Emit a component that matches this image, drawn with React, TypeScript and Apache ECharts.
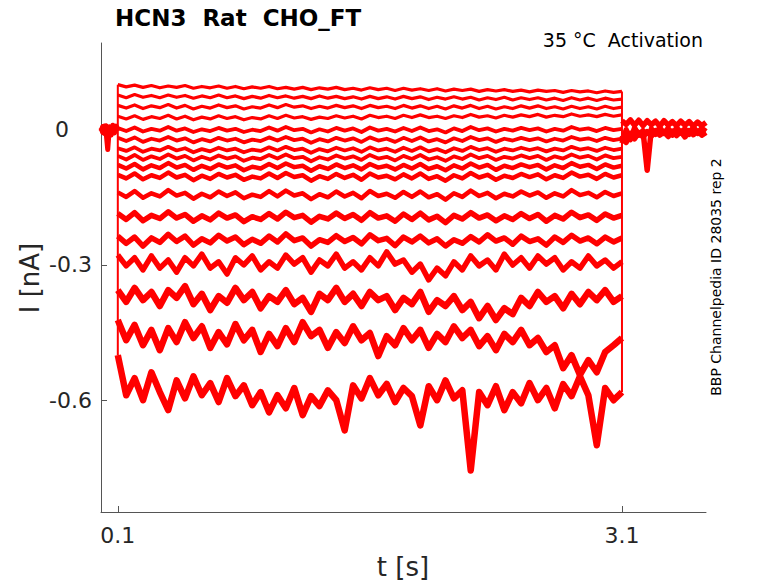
import { useRef, useEffect } from 'react';
import * as echarts from 'echarts';

// time grid of the voltage step (s)
const stepTimes = [
  0.10, 0.15, 0.20, 0.25, 0.30, 0.35, 0.40, 0.45, 0.50, 0.55,
  0.60, 0.65, 0.70, 0.75, 0.80, 0.85, 0.90, 0.95, 1.00, 1.05,
  1.10, 1.15, 1.20, 1.25, 1.30, 1.35, 1.40, 1.45, 1.50, 1.55,
  1.60, 1.65, 1.70, 1.75, 1.80, 1.85, 1.90, 1.95, 2.00, 2.05,
  2.10, 2.15, 2.20, 2.25, 2.30, 2.35, 2.40, 2.45, 2.50, 2.55,
  2.60, 2.65, 2.70, 2.75, 2.80, 2.85, 2.90, 2.95, 3.00, 3.05,
  3.10,
];

// currents during each step (nA), top trace first
const trace1 = [
  0.100, 0.095, 0.099, 0.094, 0.098, 0.093, 0.097, 0.094, 0.098, 0.092,
  0.096, 0.093, 0.097, 0.092, 0.096, 0.091, 0.095, 0.092, 0.096, 0.091,
  0.094, 0.090, 0.094, 0.089, 0.093, 0.090, 0.094, 0.089, 0.092, 0.088,
  0.093, 0.089, 0.092, 0.087, 0.092, 0.088, 0.091, 0.087, 0.091, 0.086,
  0.090, 0.087, 0.090, 0.085, 0.089, 0.086, 0.089, 0.085, 0.088, 0.084,
  0.088, 0.085, 0.087, 0.083, 0.087, 0.084, 0.086, 0.082, 0.086, 0.083,
  0.085,
];
const trace2 = [
  0.077, 0.071, 0.078, 0.072, 0.076, 0.071, 0.077, 0.072, 0.076, 0.070,
  0.075, 0.071, 0.077, 0.071, 0.075, 0.069, 0.074, 0.070, 0.076, 0.071,
  0.075, 0.070, 0.074, 0.069, 0.075, 0.070, 0.074, 0.069, 0.073, 0.068,
  0.074, 0.069, 0.073, 0.068, 0.074, 0.069, 0.073, 0.067, 0.072, 0.068,
  0.073, 0.068, 0.072, 0.066, 0.071, 0.067, 0.072, 0.066, 0.071, 0.067,
  0.071, 0.066, 0.070, 0.065, 0.071, 0.066, 0.070, 0.065, 0.070, 0.066,
  0.068,
];
const trace3 = [
  0.054, 0.048, 0.055, 0.047, 0.053, 0.049, 0.056, 0.048, 0.054, 0.046,
  0.052, 0.048, 0.055, 0.049, 0.053, 0.046, 0.051, 0.048, 0.055, 0.049,
  0.056, 0.050, 0.053, 0.047, 0.052, 0.048, 0.054, 0.049, 0.053, 0.047,
  0.054, 0.049, 0.052, 0.047, 0.054, 0.048, 0.053, 0.047, 0.052, 0.046,
  0.053, 0.048, 0.054, 0.047, 0.052, 0.046, 0.051, 0.047, 0.053, 0.048,
  0.053, 0.047, 0.051, 0.046, 0.052, 0.047, 0.051, 0.046, 0.052, 0.047,
  0.050,
];
const trace4 = [
  0.030, 0.024, 0.031, 0.023, 0.029, 0.025, 0.032, 0.024, 0.030, 0.022,
  0.028, 0.024, 0.031, 0.025, 0.029, 0.022, 0.027, 0.024, 0.031, 0.025,
  0.032, 0.026, 0.029, 0.023, 0.028, 0.025, 0.031, 0.026, 0.030, 0.024,
  0.032, 0.027, 0.030, 0.025, 0.032, 0.027, 0.033, 0.027, 0.030, 0.025,
  0.031, 0.027, 0.034, 0.028, 0.031, 0.026, 0.032, 0.028, 0.033, 0.029,
  0.034, 0.028, 0.032, 0.029, 0.035, 0.030, 0.033, 0.029, 0.034, 0.030,
  0.033,
];
const trace5 = [
  0.004, -0.003, 0.005, -0.004, 0.002, -0.002, 0.006, -0.002, 0.003, -0.005,
  0.001, -0.003, 0.004, -0.002, 0.002, -0.005, 0.000, -0.003, 0.005, -0.002,
  0.006, -0.001, 0.002, -0.006, 0.001, -0.004, 0.004, -0.002, 0.003, -0.005,
  0.005, -0.002, 0.002, -0.004, 0.004, -0.003, 0.005, -0.003, 0.001, -0.006,
  0.003, -0.003, 0.006, -0.001, 0.003, -0.004, 0.002, -0.002, 0.004, -0.001,
  0.003, -0.004, 0.002, -0.002, 0.006, 0.000, 0.003, -0.003, 0.004, -0.001,
  0.002,
];
const trace6 = [
  -0.018, -0.025, -0.017, -0.027, -0.020, -0.024, -0.016, -0.024, -0.019, -0.028,
  -0.021, -0.026, -0.018, -0.024, -0.020, -0.028, -0.022, -0.025, -0.017, -0.024,
  -0.016, -0.023, -0.020, -0.029, -0.021, -0.026, -0.018, -0.024, -0.019, -0.027,
  -0.017, -0.024, -0.020, -0.027, -0.018, -0.025, -0.017, -0.026, -0.021, -0.028,
  -0.019, -0.025, -0.016, -0.023, -0.019, -0.027, -0.020, -0.024, -0.018, -0.023,
  -0.019, -0.026, -0.020, -0.024, -0.016, -0.022, -0.019, -0.025, -0.018, -0.023,
  -0.020,
];
const trace7 = [
  -0.041, -0.047, -0.039, -0.049, -0.042, -0.046, -0.038, -0.046, -0.041, -0.050,
  -0.043, -0.048, -0.040, -0.046, -0.042, -0.050, -0.044, -0.047, -0.039, -0.046,
  -0.038, -0.045, -0.042, -0.051, -0.043, -0.048, -0.040, -0.046, -0.041, -0.049,
  -0.039, -0.046, -0.042, -0.049, -0.040, -0.047, -0.039, -0.048, -0.043, -0.050,
  -0.041, -0.047, -0.038, -0.045, -0.041, -0.049, -0.042, -0.046, -0.040, -0.045,
  -0.041, -0.048, -0.042, -0.046, -0.038, -0.044, -0.041, -0.047, -0.040, -0.045,
  -0.042,
];
const trace8 = [
  -0.058, -0.066, -0.056, -0.067, -0.059, -0.065, -0.055, -0.064, -0.058, -0.068,
  -0.060, -0.066, -0.057, -0.064, -0.059, -0.069, -0.062, -0.065, -0.056, -0.064,
  -0.055, -0.063, -0.060, -0.070, -0.061, -0.066, -0.057, -0.064, -0.059, -0.067,
  -0.056, -0.064, -0.060, -0.068, -0.058, -0.065, -0.056, -0.066, -0.061, -0.069,
  -0.059, -0.065, -0.055, -0.063, -0.058, -0.067, -0.060, -0.064, -0.057, -0.063,
  -0.058, -0.067, -0.059, -0.064, -0.055, -0.062, -0.058, -0.066, -0.057, -0.063,
  -0.060,
];
const trace9 = [
  -0.078, -0.086, -0.076, -0.088, -0.079, -0.085, -0.074, -0.084, -0.078, -0.089,
  -0.080, -0.087, -0.077, -0.084, -0.079, -0.090, -0.082, -0.086, -0.076, -0.085,
  -0.075, -0.083, -0.080, -0.091, -0.081, -0.087, -0.077, -0.085, -0.079, -0.088,
  -0.076, -0.084, -0.080, -0.088, -0.078, -0.086, -0.076, -0.087, -0.081, -0.090,
  -0.079, -0.086, -0.075, -0.084, -0.078, -0.089, -0.080, -0.085, -0.077, -0.083,
  -0.078, -0.088, -0.079, -0.085, -0.074, -0.082, -0.078, -0.087, -0.077, -0.084,
  -0.080,
];
const trace10 = [
  -0.100, -0.108, -0.097, -0.110, -0.101, -0.107, -0.095, -0.106, -0.100, -0.112,
  -0.102, -0.109, -0.098, -0.106, -0.100, -0.111, -0.104, -0.108, -0.097, -0.107,
  -0.096, -0.105, -0.101, -0.113, -0.103, -0.109, -0.098, -0.107, -0.100, -0.111,
  -0.097, -0.106, -0.102, -0.110, -0.099, -0.108, -0.097, -0.109, -0.103, -0.113,
  -0.101, -0.108, -0.096, -0.106, -0.100, -0.111, -0.102, -0.107, -0.098, -0.105,
  -0.099, -0.110, -0.101, -0.107, -0.095, -0.104, -0.100, -0.109, -0.098, -0.106,
  -0.101,
];
const trace11 = [
  -0.139, -0.149, -0.136, -0.151, -0.141, -0.148, -0.134, -0.146, -0.140, -0.153,
  -0.142, -0.150, -0.137, -0.147, -0.139, -0.152, -0.144, -0.149, -0.136, -0.148,
  -0.135, -0.146, -0.141, -0.154, -0.143, -0.150, -0.137, -0.148, -0.140, -0.152,
  -0.136, -0.147, -0.142, -0.151, -0.138, -0.149, -0.137, -0.150, -0.143, -0.155,
  -0.141, -0.149, -0.135, -0.147, -0.140, -0.152, -0.142, -0.148, -0.137, -0.146,
  -0.139, -0.151, -0.141, -0.148, -0.134, -0.145, -0.140, -0.150, -0.138, -0.147,
  -0.141,
];
const trace12 = [
  -0.186, -0.199, -0.184, -0.202, -0.190, -0.197, -0.182, -0.196, -0.188, -0.203,
  -0.191, -0.200, -0.185, -0.196, -0.189, -0.204, -0.193, -0.199, -0.186, -0.198,
  -0.183, -0.195, -0.190, -0.205, -0.192, -0.198, -0.185, -0.197, -0.188, -0.201,
  -0.184, -0.196, -0.191, -0.203, -0.187, -0.199, -0.185, -0.200, -0.192, -0.206,
  -0.190, -0.198, -0.184, -0.196, -0.189, -0.202, -0.191, -0.199, -0.186, -0.197,
  -0.188, -0.203, -0.190, -0.198, -0.183, -0.195, -0.189, -0.201, -0.187, -0.196,
  -0.190,
];
const trace13 = [
  -0.236, -0.252, -0.238, -0.258, -0.240, -0.250, -0.232, -0.248, -0.236, -0.256,
  -0.242, -0.251, -0.234, -0.247, -0.238, -0.255, -0.243, -0.252, -0.236, -0.249,
  -0.231, -0.246, -0.240, -0.258, -0.244, -0.250, -0.235, -0.248, -0.239, -0.253,
  -0.233, -0.246, -0.241, -0.257, -0.238, -0.249, -0.236, -0.251, -0.242, -0.258,
  -0.244, -0.252, -0.237, -0.249, -0.233, -0.247, -0.240, -0.254, -0.236, -0.248,
  -0.242, -0.256, -0.238, -0.250, -0.234, -0.247, -0.240, -0.253, -0.238, -0.249,
  -0.240,
];
const trace14 = [
  -0.278, -0.302, -0.284, -0.311, -0.280, -0.307, -0.289, -0.316, -0.284, -0.302,
  -0.276, -0.307, -0.293, -0.320, -0.284, -0.300, -0.280, -0.311, -0.293, -0.307,
  -0.278, -0.298, -0.284, -0.316, -0.289, -0.302, -0.276, -0.307, -0.293, -0.311,
  -0.284, -0.302, -0.271, -0.298, -0.289, -0.316, -0.298, -0.333, -0.307, -0.324,
  -0.293, -0.311, -0.280, -0.302, -0.289, -0.311, -0.276, -0.300, -0.284, -0.307,
  -0.280, -0.298, -0.284, -0.311, -0.293, -0.307, -0.280, -0.302, -0.289, -0.307,
  -0.293,
];
const trace15 = [
  -0.356, -0.382, -0.351, -0.378, -0.360, -0.391, -0.356, -0.373, -0.347, -0.387,
  -0.364, -0.400, -0.369, -0.384, -0.351, -0.378, -0.360, -0.396, -0.369, -0.382,
  -0.356, -0.387, -0.373, -0.404, -0.364, -0.378, -0.351, -0.382, -0.364, -0.391,
  -0.360, -0.378, -0.369, -0.400, -0.373, -0.387, -0.360, -0.404, -0.378, -0.391,
  -0.369, -0.400, -0.382, -0.418, -0.391, -0.422, -0.396, -0.409, -0.373, -0.391,
  -0.360, -0.382, -0.369, -0.396, -0.364, -0.387, -0.360, -0.378, -0.356, -0.382,
  -0.369,
];
const trace16 = [
  -0.422, -0.467, -0.433, -0.478, -0.444, -0.489, -0.440, -0.471, -0.427, -0.462,
  -0.436, -0.484, -0.449, -0.476, -0.431, -0.467, -0.444, -0.493, -0.453, -0.480,
  -0.440, -0.471, -0.427, -0.458, -0.444, -0.484, -0.449, -0.473, -0.436, -0.467,
  -0.451, -0.502, -0.458, -0.478, -0.440, -0.467, -0.444, -0.484, -0.453, -0.471,
  -0.436, -0.462, -0.444, -0.480, -0.458, -0.489, -0.453, -0.471, -0.444, -0.478,
  -0.462, -0.493, -0.478, -0.529, -0.500, -0.544, -0.511, -0.538, -0.493, -0.478,
  -0.462,
];
const trace17 = [
  -0.500, -0.589, -0.551, -0.600, -0.538, -0.582, -0.622, -0.556, -0.596, -0.547,
  -0.589, -0.562, -0.604, -0.551, -0.591, -0.567, -0.611, -0.582, -0.627, -0.589,
  -0.618, -0.573, -0.633, -0.591, -0.613, -0.578, -0.600, -0.667, -0.567, -0.596,
  -0.551, -0.589, -0.564, -0.604, -0.573, -0.591, -0.656, -0.569, -0.600, -0.556,
  -0.596, -0.578, -0.756, -0.582, -0.611, -0.569, -0.622, -0.582, -0.607, -0.562,
  -0.600, -0.573, -0.618, -0.564, -0.591, -0.547, -0.589, -0.700, -0.573, -0.600,
  -0.582,
];
const stepTraces = [
  trace1, trace2, trace3, trace4, trace5, trace6, trace7, trace8, trace9,
  trace10, trace11, trace12, trace13, trace14, trace15, trace16, trace17,
];

// holding potential before and after the step
const holdLevel = 0;
const preTimes = [0, 0.01, 0.02, 0.03, 0.04, 0.05, 0.06, 0.07, 0.08, 0.09, 0.10];
const preA = [0.004, -0.006, 0.008, -0.004, -0.044, 0.006, -0.008, 0.010, -0.005, 0.007, -0.003];
const preB = [-0.003, 0.007, -0.008, 0.009, -0.010, 0.006, -0.012, 0.005, -0.007, 0.008, 0.000];
const postTimes = [
  3.100, 3.125, 3.150, 3.175, 3.200, 3.225, 3.250, 3.275, 3.300, 3.325, 3.350,
  3.375, 3.400, 3.425, 3.450, 3.475, 3.500, 3.525, 3.550, 3.575, 3.600,
];
const postA = [
  0.020, 0.012, 0.022, 0.010, 0.021, 0.009, 0.020, 0.011, 0.019, 0.008, 0.020,
  0.010, 0.018, 0.009, 0.019, 0.010, 0.018, 0.008, 0.017, 0.009, 0.016,
];
const postB = [
  -0.030, 0.000, -0.022, 0.004, -0.012, -0.002, -0.090, 0.002, -0.010, 0.005, -0.008,
  0.003, -0.012, 0.004, -0.006, 0.002, -0.010, 0.006, -0.008, 0.003, -0.004,
];
const postC = [
  -0.012, -0.028, -0.008, -0.020, -0.006, -0.016, -0.004, -0.014, -0.002, -0.012, -0.005,
  -0.015, -0.003, -0.013, -0.004, -0.016, -0.002, -0.011, -0.003, -0.012, -0.006,
];
const holdTraces = [
  { times: preTimes, values: preA },
  { times: preTimes, values: preB },
  { times: postTimes, values: postA },
  { times: postTimes, values: postB },
  { times: postTimes, values: postC },
];

const xTicks = [0.1, 3.1];
const yTicks = [0, -0.3, -0.6];

const FONT = 'DejaVu Sans';
const INK = '#262626';
const AXIS = '#555555';
const RED = '#ff0000';

// noisier (lower) traces get a thicker stroke
const strokeFor = (k: number) => (k < 4 ? 3.2 : k < 8 ? 3.8 : k < 11 ? 4.5 : k < 14 ? 5.5 : 6.5);

const App = () => {
  const chartRef = useRef<HTMLDivElement>(null);

  useEffect(() => {
    if (!chartRef.current) return;
    const chart = echarts.init(chartRef.current, null, { renderer: 'svg' });

    const first = stepTraces.map((v) => v[0]);
    const last = stepTraces.map((v) => v[v.length - 1]);
    const tOn = stepTimes[0];
    const tOff = stepTimes[stepTimes.length - 1];

    const series: any[] = [];
    holdTraces.forEach((h, k) => {
      series.push({
        type: 'line',
        data: h.times.map((t, i) => [t, h.values[i]]),
        symbol: 'none',
        lineStyle: { color: RED, width: k < 2 ? 5 : 5.5, join: 'round' },
        z: 2,
      });
    });
    // capacitive jumps at step on and off
    series.push({
      type: 'line',
      data: [[tOn, Math.max(holdLevel, ...first)], [tOn, Math.min(holdLevel, ...first)]],
      symbol: 'none',
      lineStyle: { color: RED, width: 2 },
      z: 2,
    });
    series.push({
      type: 'line',
      data: [[tOff, Math.max(holdLevel, ...last)], [tOff, Math.min(holdLevel, ...last)]],
      symbol: 'none',
      lineStyle: { color: RED, width: 2 },
      z: 2,
    });
    stepTraces.forEach((vals, k) => {
      series.push({
        type: 'line',
        data: vals.map((v, i) => [stepTimes[i], v]),
        symbol: 'none',
        lineStyle: { color: RED, width: strokeFor(k), join: 'round', cap: 'butt' },
        z: 2,
      });
    });

    chart.setOption({
      animation: false,
      backgroundColor: '#ffffff',
      grid: { left: 101, right: 72, top: 43, bottom: 71 },
      xAxis: {
        type: 'value',
        min: 0,
        max: 3.6,
        axisLine: { onZero: false, lineStyle: { color: AXIS, width: 1 } },
        axisTick: { inside: true, length: 6, customValues: xTicks, lineStyle: { color: AXIS } },
        axisLabel: {
          customValues: xTicks,
          margin: 12,
          color: INK,
          fontFamily: FONT,
          fontSize: 22,
          formatter: (v: number) => v.toFixed(1),
        },
        splitLine: { show: false },
      },
      yAxis: {
        type: 'value',
        min: -0.848,
        max: 0.1924,
        axisLine: { show: true, onZero: false, lineStyle: { color: AXIS, width: 1 } },
        axisTick: { show: true, inside: true, length: 6, customValues: yTicks, lineStyle: { color: AXIS } },
        axisLabel: {
          customValues: yTicks,
          margin: 9,
          color: INK,
          fontFamily: FONT,
          fontSize: 22,
          formatter: (v: number) => (v === 0 ? '{z|0}' : v.toFixed(1)),
          rich: { z: { fontFamily: FONT, fontSize: 22, color: INK, padding: [0, 23, 0, 0] } },
        },
        splitLine: { show: false },
      },
      graphic: [
        {
          type: 'text',
          left: 115,
          top: 6,
          style: { text: 'HCN3  Rat  CHO_FT', font: `bold 23px "${FONT}"`, fill: '#000000' },
        },
        {
          type: 'text',
          x: 703,
          y: 40,
          style: {
            text: '35 °C  Activation',
            font: `19px "${FONT}"`,
            fill: '#000000',
            align: 'right',
            verticalAlign: 'middle',
          },
        },
        {
          type: 'text',
          x: 716,
          y: 277,
          rotation: Math.PI / 2,
          style: {
            text: 'BBP Channelpedia ID 28035 rep 2',
            font: `14px "${FONT}"`,
            fill: '#000000',
            align: 'center',
            verticalAlign: 'middle',
          },
        },
        {
          type: 'text',
          x: 30,
          y: 278,
          rotation: Math.PI / 2,
          style: {
            text: 'I [nA]',
            font: `26px "${FONT}"`,
            fill: INK,
            align: 'center',
            verticalAlign: 'middle',
          },
        },
        {
          type: 'text',
          x: 403,
          y: 567,
          style: {
            text: 't [s]',
            font: `26px "${FONT}"`,
            fill: INK,
            align: 'center',
            verticalAlign: 'middle',
          },
        },
      ],
      series,
    });

    return () => {
      chart.dispose();
    };
  }, []);

  return (
    <div
      ref={chartRef}
      style={{ position: 'absolute', left: 0, top: 0, width: 778, height: 583, background: '#fff' }}
    />
  );
};

export default App;
